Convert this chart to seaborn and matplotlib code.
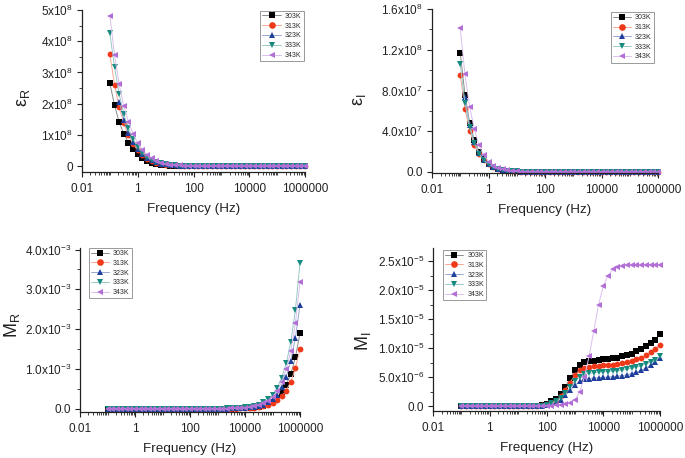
import numpy as np
import pandas as pd
import matplotlib
matplotlib.use('Agg')
import matplotlib.pyplot as plt
import seaborn as sns
from matplotlib.ticker import FixedLocator, FixedFormatter, LogLocator, NullFormatter, AutoMinorLocator
from matplotlib.lines import Line2D
from matplotlib.colors import to_rgb

nan = np.nan

# ---------------- data ----------------
TEMPS = ['303K', '313K', '323K', '333K', '343K']

FREQ = [0.1, 0.1468, 0.2154, 0.3162, 0.4642, 0.6813,
        1.0, 1.468, 2.154, 3.162, 4.642, 6.813,
        10.0, 14.68, 21.54, 31.62, 46.42, 68.13,
        100.0, 146.8, 215.4, 316.2, 464.2, 681.3,
        1000.0, 1468.0, 2154.0, 3162.0, 4642.0, 6813.0,
        10000.0, 14680.0, 21540.0, 31620.0, 46420.0, 68130.0,
        100000.0, 146800.0, 215400.0, 316200.0, 464200.0, 681300.0,
        1000000.0]

# epsilon_R  (x 1e8)
EPSR_303 = [2.65, 1.95, 1.41, 1.03, 0.75, 0.54,
            0.38, 0.27, 0.17, 0.11, 0.065, 0.040,
            0.026, 0.017, 0.012, 0.009, 0.007, 0.006,
            0.005, 0.004, 0.004, 0.003, 0.003, 0.003,
            0.002, 0.002, 0.002, 0.002, 0.002, 0.002,
            0.002, 0.001, 0.001, 0.001, 0.001, 0.001,
            0.001, 0.001, 0.001, 0.001, 0.001, 0.001,
            0.001]
EPSR_313 = [3.58, 2.61, 1.89, 1.38, 0.98, 0.70,
            0.50, 0.35, 0.24, 0.16, 0.10, 0.065,
            0.042, 0.028, 0.019, 0.013, 0.009, 0.007,
            0.006, 0.005, 0.004, 0.004, 0.003, 0.003,
            0.003, 0.002, 0.002, 0.002, 0.002, 0.002,
            0.002, 0.002, 0.001, 0.001, 0.001, 0.001,
            0.001, 0.001, 0.001, 0.001, 0.001, 0.001,
            0.001]
EPSR_323 = [nan, nan, 2.06, 1.47, 1.07, 0.76,
            0.55, 0.39, 0.27, 0.18, 0.12, 0.08,
            0.052, 0.034, 0.023, 0.016, 0.011, 0.008,
            0.006, 0.005, 0.004, 0.004, 0.003, 0.003,
            0.003, 0.002, 0.002, 0.002, 0.002, 0.002,
            0.002, 0.002, 0.001, 0.001, 0.001, 0.001,
            0.001, 0.001, 0.001, 0.001, 0.001, 0.001,
            0.001]
EPSR_333 = [4.25, 3.17, 2.31, 1.66, 1.21, 0.86,
            0.61, 0.43, 0.30, 0.20, 0.135, 0.09,
            0.06, 0.04, 0.027, 0.018, 0.013, 0.009,
            0.007, 0.006, 0.005, 0.004, 0.004, 0.003,
            0.003, 0.002, 0.002, 0.002, 0.002, 0.002,
            0.002, 0.002, 0.001, 0.001, 0.001, 0.001,
            0.001, 0.001, 0.001, 0.001, 0.001, 0.001,
            0.001]
EPSR_343 = [4.82, 3.56, 2.62, 1.92, 1.42, 1.03,
            0.73, 0.52, 0.37, 0.25, 0.17, 0.11,
            0.075, 0.05, 0.034, 0.023, 0.016, 0.011,
            0.008, 0.006, 0.005, 0.004, 0.004, 0.003,
            0.003, 0.002, 0.002, 0.002, 0.002, 0.002,
            0.002, 0.002, 0.001, 0.001, 0.001, 0.001,
            0.001, 0.001, 0.001, 0.001, 0.001, 0.001,
            0.001]

# epsilon_I  (x 1e7)
EPSI_303 = [11.7, 7.6, 4.8, 3.13, 1.98, 1.28,
            0.82, 0.52, 0.33, 0.21, 0.135, 0.086,
            0.055, 0.035, 0.022, 0.014, 0.009, 0.006,
            0.004, 0.003, 0.002, 0.0015, 0.001, 0.0007,
            0.0005, 0.0003, 0.0002, 0.0001, 0.0001, 0.0001,
            0.0, 0.0, 0.0, 0.0, 0.0, 0.0,
            0.0, 0.0, 0.0, 0.0, 0.0, 0.0,
            0.0]
EPSI_313 = [9.48, 6.22, 4.05, 2.65, 1.73, 1.13,
            0.74, 0.48, 0.31, 0.20, 0.13, 0.085,
            0.055, 0.036, 0.023, 0.015, 0.010, 0.006,
            0.004, 0.003, 0.002, 0.0015, 0.001, 0.0007,
            0.0005, 0.0003, 0.0002, 0.0001, 0.0001, 0.0001,
            0.0, 0.0, 0.0, 0.0, 0.0, 0.0,
            0.0, 0.0, 0.0, 0.0, 0.0, 0.0,
            0.0]
EPSI_323 = [nan, 7.36, 4.6, 2.95, 1.9, 1.22,
            0.79, 0.51, 0.33, 0.21, 0.135, 0.087,
            0.056, 0.036, 0.023, 0.015, 0.010, 0.006,
            0.004, 0.003, 0.002, 0.0015, 0.001, 0.0007,
            0.0005, 0.0003, 0.0002, 0.0001, 0.0001, 0.0001,
            0.0, 0.0, 0.0, 0.0, 0.0, 0.0,
            0.0, 0.0, 0.0, 0.0, 0.0, 0.0,
            0.0]
EPSI_333 = [10.56, 6.78, 4.4, 2.82, 1.8, 1.15,
            0.74, 0.47, 0.30, 0.19, 0.125, 0.08,
            0.052, 0.034, 0.022, 0.014, 0.009, 0.006,
            0.004, 0.003, 0.002, 0.0015, 0.001, 0.0007,
            0.0005, 0.0003, 0.0002, 0.0001, 0.0001, 0.0001,
            0.0, 0.0, 0.0, 0.0, 0.0, 0.0,
            0.0, 0.0, 0.0, 0.0, 0.0, 0.0,
            0.0]
EPSI_343 = [14.1, 9.58, 6.4, 4.2, 2.6, 1.65,
            1.02, 0.63, 0.40, 0.26, 0.17, 0.11,
            0.07, 0.045, 0.029, 0.019, 0.012, 0.008,
            0.005, 0.0035, 0.0025, 0.0015, 0.001, 0.0007,
            0.0005, 0.0003, 0.0002, 0.0001, 0.0001, 0.0001,
            0.0, 0.0, 0.0, 0.0, 0.0, 0.0,
            0.0, 0.0, 0.0, 0.0, 0.0, 0.0,
            0.0]

# M_R  (x 1e-3)
MR_303 = [0.0, 0.0, 0.0, 0.0, 0.0, 0.0,
          0.0, 0.0, 0.0, 0.0, 0.0, 0.0,
          0.0, 0.0, 0.0, 0.0, 0.0, 0.0,
          0.0, 0.0, 0.0, 0.001, 0.001, 0.002,
          0.002, 0.003, 0.004, 0.006, 0.008, 0.012,
          0.017, 0.025, 0.037, 0.055, 0.082, 0.12,
          0.18, 0.27, 0.40, 0.61, 0.88, 1.29,
          1.90]
MR_313 = [0.0, 0.0, 0.0, 0.0, 0.0, 0.0,
          0.0, 0.0, 0.0, 0.0, 0.0, 0.0,
          0.0, 0.0, 0.0, 0.0, 0.0, 0.0,
          0.0, 0.0, 0.0, 0.001, 0.001, 0.002,
          0.002, 0.003, 0.004, 0.005, 0.007, 0.010,
          0.014, 0.020, 0.029, 0.043, 0.064, 0.095,
          0.14, 0.21, 0.31, 0.46, 0.68, 1.02,
          1.50]
MR_323 = [0.0, 0.0, 0.0, 0.0, 0.0, 0.0,
          0.0, 0.0, 0.0, 0.0, 0.0, 0.0,
          0.0, 0.0, 0.0, 0.0, 0.0, 0.0,
          0.0, 0.0, 0.0, 0.001, 0.002, 0.002,
          0.003, 0.004, 0.006, 0.008, 0.011, 0.016,
          0.023, 0.034, 0.05, 0.073, 0.108, 0.16,
          0.24, 0.35, 0.54, 0.81, 1.21, 1.78,
          2.61]
MR_333 = [0.0, 0.0, 0.0, 0.0, 0.0, 0.0,
          0.0, 0.0, 0.0, 0.0, 0.0, 0.0,
          0.0, 0.0, 0.0, 0.0, 0.0, 0.0,
          0.0, 0.0, 0.0, 0.002, 0.002, 0.003,
          0.004, 0.006, 0.008, 0.011, 0.016, 0.023,
          0.034, 0.05, 0.073, 0.108, 0.16, 0.235,
          0.35, 0.52, 0.78, 1.14, 1.68, 2.48,
          3.67]
MR_343 = [0.0, 0.0, 0.0, 0.0, 0.0, 0.0,
          0.0, 0.0, 0.0, 0.0, 0.0, 0.0,
          0.0, 0.0, 0.0, 0.0, 0.0, 0.0,
          0.0, 0.0, 0.0, 0.001, 0.002, 0.003,
          0.004, 0.005, 0.006, 0.009, 0.013, 0.019,
          0.028, 0.04, 0.06, 0.09, 0.135, 0.2,
          0.30, 0.44, 0.67, 1.0, 1.46, 2.15,
          3.19]

# M_I  (x 1e-5)
MI_303 = [0.0, 0.0, 0.0, 0.0, 0.0, 0.0,
          0.0, 0.0, 0.0, 0.0, 0.0, 0.0,
          0.0, 0.0, 0.0, 0.003, 0.008, 0.02,
          0.045, 0.085, 0.125, 0.205, 0.34, 0.485,
          0.63, 0.72, 0.76, 0.785, 0.79, 0.80,
          0.81, 0.82, 0.83, 0.84, 0.86, 0.88,
          0.91, 0.95, 0.99, 1.04, 1.09, 1.15,
          1.24]
MI_313 = [0.0, 0.0, 0.0, 0.0, 0.0, 0.0,
          0.0, 0.0, 0.0, 0.0, 0.0, 0.0,
          0.0, 0.0, 0.0, 0.002, 0.006, 0.015,
          0.035, 0.065, 0.10, 0.17, 0.28, 0.41,
          0.54, 0.62, 0.66, 0.68, 0.69, 0.70,
          0.705, 0.71, 0.72, 0.73, 0.74, 0.76,
          0.78, 0.81, 0.84, 0.88, 0.93, 0.99,
          1.06]
MI_323 = [0.0, 0.0, 0.0, 0.0, 0.0, 0.0,
          0.0, 0.0, 0.0, 0.0, 0.0, 0.0,
          0.0, 0.0, 0.0, 0.002, 0.004, 0.01,
          0.025, 0.045, 0.07, 0.115, 0.19, 0.28,
          0.36, 0.43, 0.465, 0.48, 0.49, 0.495,
          0.50, 0.505, 0.51, 0.52, 0.53, 0.545,
          0.565, 0.59, 0.62, 0.66, 0.71, 0.77,
          0.84]
MI_333 = [0.0, 0.0, 0.0, 0.0, 0.0, 0.0,
          0.0, 0.0, 0.0, 0.0, 0.0, 0.0,
          0.0, 0.0, 0.0, 0.002, 0.005, 0.012,
          0.03, 0.055, 0.085, 0.14, 0.23, 0.33,
          0.43, 0.51, 0.55, 0.57, 0.58, 0.59,
          0.595, 0.60, 0.61, 0.615, 0.625, 0.64,
          0.655, 0.675, 0.70, 0.73, 0.76, 0.80,
          0.86]
MI_343 = [0.0, 0.0, 0.0, 0.0, 0.0, 0.0,
          0.0, 0.0, 0.0, 0.0, 0.0, 0.0,
          0.0, 0.0, 0.0, 0.001, 0.003, 0.005,
          0.008, 0.012, 0.018, 0.025, 0.04, 0.065,
          0.11, 0.245, 0.50, 0.86, 1.30, 1.75,
          2.07, 2.25, 2.36, 2.40, 2.42, 2.43,
          2.43, 2.44, 2.44, 2.44, 2.44, 2.44,
          2.44]

# ---------------- style ----------------
COLORS = {'303K': '#000000', '313K': '#ee3a1a', '323K': '#1f3f9c',
          '333K': '#178a80', '343K': '#b26fd6'}
MARKERS = {'303K': 's', '313K': 'o', '323K': '^', '333K': 'v', '343K': '<'}


def light(c, f=0.5):
    r, g, b = to_rgb(c)
    return (r + (1 - r) * f, g + (1 - g) * f, b + (1 - b) * f)


sns.set_style('ticks')
plt.rcParams['font.family'] = ['Liberation Sans', 'DejaVu Sans']
plt.rcParams['mathtext.fontset'] = 'custom'
plt.rcParams['mathtext.rm'] = 'Liberation Sans'
plt.rcParams['mathtext.it'] = 'Liberation Sans:italic'
plt.rcParams['mathtext.default'] = 'regular'
plt.rcParams['axes.edgecolor'] = '#222222'
plt.rcParams['axes.linewidth'] = 0.9

fig = plt.figure(figsize=(6.85, 4.58), dpi=100)
W, H = 685.0, 458.0


def add_ax(x0, x1, ytop, ybot):
    return fig.add_axes([x0 / W, 1 - ybot / H, (x1 - x0) / W, (ybot - ytop) / H])


def panel(ax, series, scale, yticks, ylabels, ylim, ylabel, lab_xy, leg_anchor):
    rows = []
    for T, vals in zip(TEMPS, series):
        for f, v in zip(FREQ, vals):
            rows.append((f, v * scale, T))
    df = pd.DataFrame(rows, columns=['f', 'v', 'T']).dropna()
    sns.lineplot(data=df, x='f', y='v', hue='T', style='T', hue_order=TEMPS,
                 style_order=TEMPS, palette=COLORS, markers=MARKERS, dashes=False,
                 estimator=None, errorbar=None, legend=False, ax=ax,
                 markersize=4.2, markeredgewidth=0, linewidth=0.7)
    for ln in ax.lines:
        c = ln.get_color()
        ln.set_markerfacecolor(c)
        ln.set_markeredgecolor(c)
        ln.set_color(light(c, 0.55))
        ln.set_clip_on(False)
    ax.set_xscale('log')
    ax.set_xlim(0.01, 1e6)
    ax.set_ylim(*ylim)
    ax.xaxis.set_major_locator(FixedLocator([1e-2, 1, 1e2, 1e4, 1e6]))
    ax.xaxis.set_major_formatter(FixedFormatter(['0.01', '1', '100', '10000', '1000000']))
    ax.xaxis.set_minor_locator(LogLocator(base=10, subs=np.arange(1, 10), numticks=60))
    ax.xaxis.set_minor_formatter(NullFormatter())
    ax.yaxis.set_major_locator(FixedLocator(yticks))
    ax.yaxis.set_major_formatter(FixedFormatter(ylabels))
    ax.yaxis.set_minor_locator(AutoMinorLocator(2))
    ax.tick_params(axis='both', which='major', length=3.5, width=0.8, labelsize=8.5,
                   pad=3, colors='#222222', direction='out')
    ax.tick_params(axis='x', which='major', pad=4.5)
    ax.tick_params(axis='both', which='minor', length=2, width=0.6, colors='#222222',
                   direction='out')
    sns.despine(ax=ax)
    ax.set_xlabel('Frequency (Hz)', fontsize=9.7, labelpad=5.5, color='#222222')
    ax.set_ylabel(ylabel, fontsize=13, color='#222222')
    ax.yaxis.set_label_coords(*lab_xy)
    handles = [Line2D([], [], color=light(COLORS[T], 0.55), lw=0.7, marker=MARKERS[T],
                      markerfacecolor=COLORS[T], markeredgecolor=COLORS[T],
                      markersize=4.8, markeredgewidth=0) for T in TEMPS]
    leg = ax.legend(handles, TEMPS, loc='upper left', bbox_to_anchor=leg_anchor,
                    borderaxespad=0, fontsize=5, frameon=True, fancybox=False,
                    framealpha=1, edgecolor='#999999', handlelength=2.6,
                    handletextpad=0.6, labelspacing=0.4, borderpad=0.3)
    leg.get_frame().set_linewidth(0.7)


# top-left: eps_R
ax1 = add_ax(82, 305, 10, 172)
panel(ax1, [EPSR_303, EPSR_313, EPSR_323, EPSR_333, EPSR_343], 1e8,
      [0, 1e8, 2e8, 3e8, 4e8, 5e8],
      ['0', '1x10$^{8}$', '2x10$^{8}$', '3x10$^{8}$', '4x10$^{8}$', '5x10$^{8}$'],
      (-0.19e8, 5e8), 'ε$_{R}$', (-0.225, 0.46), (0.80, 0.995))

# top-right: eps_I
ax2 = add_ax(432, 658, 9, 173)
panel(ax2, [EPSI_303, EPSI_313, EPSI_323, EPSI_333, EPSI_343], 1e7,
      [0, 4e7, 8e7, 1.2e8, 1.6e8],
      ['0.0', '4.0x10$^{7}$', '8.0x10$^{7}$', '1.2x10$^{8}$', '1.6x10$^{8}$'],
      (-0.01e8, 1.6e8), 'ε$_{I}$', (-0.282, 0.445), (0.79, 0.98))

# bottom-left: M_R
ax3 = add_ax(80, 300, 248, 412)
panel(ax3, [MR_303, MR_313, MR_323, MR_333, MR_343], 1e-3,
      [0, 1e-3, 2e-3, 3e-3, 4e-3],
      ['0.0', '1.0x10$^{-3}$', '2.0x10$^{-3}$', '3.0x10$^{-3}$', '4.0x10$^{-3}$'],
      (-0.08e-3, 4.04e-3), 'M$_{R}$', (-0.262, 0.53), (0.04, 1.0))

# bottom-right: M_I
ax4 = add_ax(433, 660, 248, 411)
panel(ax4, [MI_303, MI_313, MI_323, MI_333, MI_343], 1e-5,
      [0, 0.5e-5, 1e-5, 1.5e-5, 2e-5, 2.5e-5],
      ['0.0', '5.0x10$^{-6}$', '1.0x10$^{-5}$', '1.5x10$^{-5}$', '2.0x10$^{-5}$', '2.5x10$^{-5}$'],
      (-0.08e-5, 2.73e-5), 'M$_{I}$', (-0.264, 0.43), (0.044, 0.988))

fig.savefig('out.png', dpi=100)
